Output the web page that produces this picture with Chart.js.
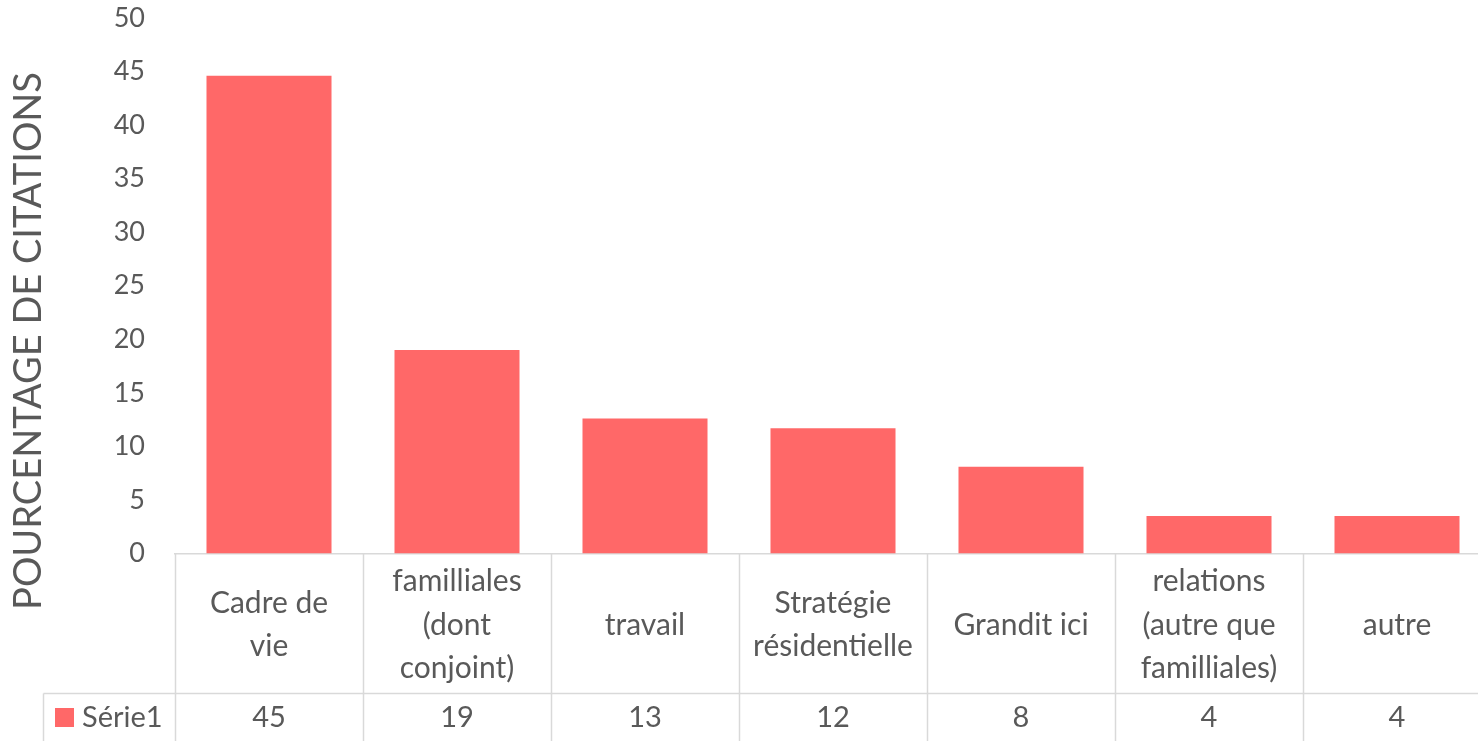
<!DOCTYPE html>
<html lang="fr">
<head>
<meta charset="utf-8">
<title>Pourcentage de citations</title>
<script src="https://cdn.jsdelivr.net/npm/chart.js"></script>
<style>
  html, body { margin: 0; padding: 0; background: #fff; overflow: hidden; }
  #wrap { position: relative; width: 1500px; height: 741px; }
</style>
</head>
<body>
<div id="wrap"><canvas id="chart"></canvas></div>
<script>
// Data
const categories = [
    ["Cadre de", "vie"],
    ["familliales", "(dont", "conjoint)"],
    "travail",
    ["Stratégie", "résidentielle"],
    "Grandit ici",
    ["relations", "(autre que", "familliales)"],
    "autre",
]
const serieName = "Série1"
const serieValues = [44.6, 19.0, 12.6, 11.7, 8.1, 3.5, 3.5]
const yTicks = [0, 5, 10, 15, 20, 25, 30, 35, 40, 45, 50]
const yTitle = "POURCENTAGE DE CITATIONS"

// Styles
const textColor = "#595959"
const lineColor = "#d9d9d9"
const barColor = "#ff6868"
const fontFamily = "Lato, 'Open Sans', sans-serif"

// Data table under the axis + rotated axis title
const dataTable = {
    id: "dataTable",
    afterDraw(chart) {
        const { ctx, chartArea: area } = chart
        const x = chart.scales.x
        const bottom = chart.height
        const rowTop = 693.5
        const tableLeft = 43.5

        ctx.save()
        ctx.strokeStyle = lineColor
        ctx.lineWidth = 1.5
        ctx.beginPath()
        for (let i = 0; i <= categories.length; i++) {
            const px = Math.round(x.getPixelForValue(i - 0.5)) + 0.5
            ctx.moveTo(px, area.bottom)
            ctx.lineTo(px, bottom)
        }
        ctx.moveTo(tableLeft, rowTop)
        ctx.lineTo(x.right, rowTop)
        ctx.moveTo(tableLeft, rowTop)
        ctx.lineTo(tableLeft, bottom)
        ctx.stroke()

        // legend key
        ctx.fillStyle = barColor
        ctx.fillRect(55, 708, 19, 19)

        ctx.fillStyle = textColor
        ctx.font = `29px ${fontFamily}`
        ctx.textBaseline = "middle"
        ctx.textAlign = "left"
        ctx.fillText(serieName, 82, 718)
        ctx.textAlign = "center"
        serieValues.forEach((v, i) => {
            ctx.fillText(String(Math.round(v)), x.getPixelForValue(i), 718)
        })

        // y axis title
        ctx.translate(29, 341)
        ctx.rotate(-Math.PI / 2)
        ctx.font = `38px ${fontFamily}`
        ctx.fillText(yTitle, 0, 0)
        ctx.restore()
    },
}

const chart = new Chart(document.getElementById("chart"), {
    type: "bar",
    data: {
        labels: categories,
        datasets: [
            {
                label: serieName,
                data: serieValues,
                backgroundColor: barColor,
                categoryPercentage: 1,
                barPercentage: 0.665,
            },
        ],
    },
    options: {
        responsive: true,
        maintainAspectRatio: false,
        animation: false,
        layout: { padding: { top: 18, right: 9, left: 0, bottom: 0 } },
        plugins: {
            legend: { display: false },
            tooltip: { enabled: false },
        },
        scales: {
            x: {
                grid: { display: false, drawTicks: false },
                border: { display: true, color: lineColor, width: 1.5 },
                ticks: {
                    color: textColor,
                    font: { family: fontFamily, size: 30, lineHeight: "43.5px" },
                    maxRotation: 0,
                    autoSkip: false,
                    crossAlign: "center",
                    padding: 28,
                },
                afterFit: (scale) => {
                    scale.height = 187.5
                },
            },
            y: {
                min: 0,
                max: 50,
                grid: { display: false, drawTicks: false },
                border: { display: false },
                ticks: {
                    color: textColor,
                    font: { family: fontFamily, size: 27 },
                    padding: 30,
                },
                afterBuildTicks: (scale) => {
                    scale.ticks = yTicks.map((v) => ({ value: v }))
                },
                afterFit: (scale) => {
                    scale.width = 175
                    // keep the plot top where the reference has it
                    scale.paddingTop = 0
                    scale.paddingBottom = 0
                },
            },
        },
    },
    plugins: [dataTable],
})
</script>
</body>
</html>
